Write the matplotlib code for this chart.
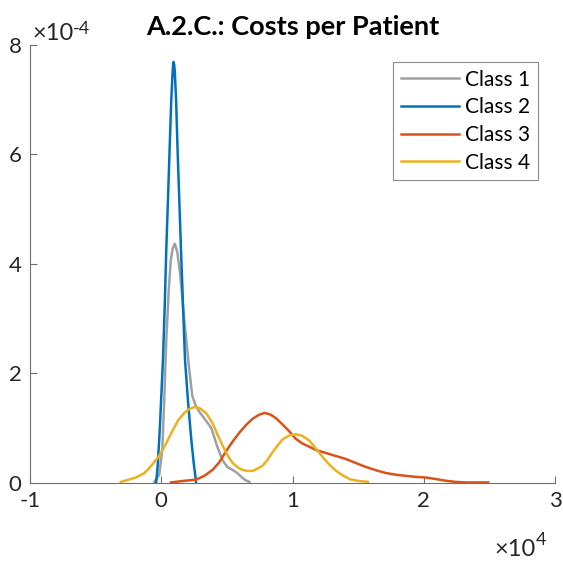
import numpy as np
import matplotlib
matplotlib.use("Agg")
from matplotlib import pyplot as plt
from matplotlib.ticker import FuncFormatter

plt.rcParams['font.family'] = ['Lato', 'DejaVu Sans']

# densities (x in cost units, y in density x1e-4)
class1_x = [-534, -153, 76, 229, 382, 573, 725, 878, 1031, 1221, 1450, 1679, 1908, 2137, 2366,
            2634, 2901, 3435, 3817, 4275, 4656, 5038, 5420, 5802, 6107, 6412, 6718]
class1_y = [0.02, 0.15, 0.60, 1.52, 2.61, 3.53, 4.07, 4.29, 4.37, 4.22, 3.80, 3.16, 2.61, 2.06, 1.59,
            1.41, 1.30, 1.13, 1.00, 0.66, 0.42, 0.29, 0.24, 0.18, 0.11, 0.05, 0.02]

class2_x = [-382, -267, -115, 130, 267, 382, 511, 634, 763, 855, 895, 939, 985, 1031, 1130, 1244,
            1374, 1504, 1656, 1809, 2061, 2290, 2466, 2649]
class2_y = [0.02, 0.33, 0.97, 2.25, 3.25, 4.26, 5.17, 6.08, 7.00, 7.45, 7.62, 7.69, 7.64, 7.51,
            7.00, 6.08, 5.17, 4.26, 3.25, 2.25, 1.42, 0.79, 0.38, 0.02]

class3_x = [740, 1756, 2649, 3282, 3916, 4427, 4939, 5420, 5954, 6466, 6947, 7405, 7863, 8321, 8756,
            9237, 9771, 10229, 10763, 11298, 11809, 12519, 13336, 14046, 14863, 15626, 16389, 17153,
            17916, 18679, 19443, 20153, 20969, 21679, 22443, 23260, 24046, 24908]
class3_y = [0.01, 0.04, 0.06, 0.13, 0.24, 0.38, 0.58, 0.75, 0.92, 1.06, 1.17, 1.24, 1.28, 1.25, 1.18,
            1.07, 0.94, 0.81, 0.72, 0.66, 0.60, 0.55, 0.49, 0.44, 0.36, 0.29, 0.23, 0.18,
            0.15, 0.13, 0.11, 0.10, 0.07, 0.04, 0.02, 0.01, 0.01, 0.01]

class4_x = [-3076, -1931, -1298, -916, -229, 305, 802, 1298, 1756, 2137, 2557, 2977, 3435, 3893,
            4275, 4656, 5038, 5420, 5802, 6183, 6565, 6947, 7328, 7733, 8092, 8473, 8855, 9260,
            9771, 10283, 10763, 11298, 11809, 12313, 12824, 13336, 13817, 14351, 14962, 15748]
class4_y = [0.02, 0.10, 0.18, 0.27, 0.47, 0.69, 0.93, 1.15, 1.28, 1.35, 1.39, 1.36, 1.27, 1.10,
            0.89, 0.69, 0.51, 0.37, 0.29, 0.24, 0.22, 0.22, 0.26, 0.32, 0.42, 0.56, 0.68, 0.80,
            0.87, 0.89, 0.86, 0.77, 0.62, 0.47, 0.33, 0.22, 0.14, 0.07, 0.04, 0.02]

labels = ['Class 1', 'Class 2', 'Class 3', 'Class 4']
colors = ['#a0a0a0', '#0072BD', '#D95319', '#EDB120']
xticks = [-10000, 0, 10000, 20000, 30000]
yticks = [0, 2e-4, 4e-4, 6e-4, 8e-4]

fig = plt.figure(figsize=(5.63, 5.62), dpi=100)
ax = fig.add_axes([0.0533, 0.1406, 0.9325, 0.7794])

series = [(class1_x, class1_y), (class2_x, class2_y), (class3_x, class3_y), (class4_x, class4_y)]
for (xs, ys), lab, c in zip(series, labels, colors):
    ax.plot(np.array(xs), np.array(ys) * 1e-4, color=c, lw=1.8, label=lab,
            solid_joinstyle='round')

ax.set_xlim(-10000, 30000)
ax.set_ylim(0, 8e-4)
ax.set_xticks(xticks)
ax.set_yticks(yticks)
ax.xaxis.set_major_formatter(FuncFormatter(lambda v, p: '%g' % (v / 1e4)))
ax.yaxis.set_major_formatter(FuncFormatter(lambda v, p: '%g' % (v / 1e-4)))

for s in ['top', 'right']:
    ax.spines[s].set_visible(False)
for s in ['left', 'bottom']:
    ax.spines[s].set_color('#707070')
    ax.spines[s].set_linewidth(0.8)
ax.tick_params(direction='in', length=5, width=0.8, color='#707070',
               labelsize=16, labelcolor='#262626', pad=6)

ax.set_title('A.2.C.: Costs per Patient', fontsize=19.5, fontweight='bold', color='black', pad=7)

# exponent labels, MATLAB style
fig.text(0.057, 0.929, '\u00d710', fontsize=17, color='#262626', ha='left', va='baseline')
fig.text(0.129, 0.940, '-4', fontsize=13, color='#262626', ha='left', va='baseline')
fig.text(0.879, 0.010, '\u00d710', fontsize=17, color='#262626', ha='left', va='baseline')
fig.text(0.952, 0.031, '4', fontsize=13, color='#262626', ha='left', va='baseline')

leg = ax.legend(loc='upper right', bbox_to_anchor=(0.975, 0.97), fontsize=15, frameon=True,
                fancybox=False, handlelength=2.8, handletextpad=0.3, borderpad=0.35,
                labelspacing=0.37, borderaxespad=0.2)
leg.get_frame().set_edgecolor('#707070')
leg.get_frame().set_linewidth(0.8)

fig.savefig('out.png', dpi=100)
